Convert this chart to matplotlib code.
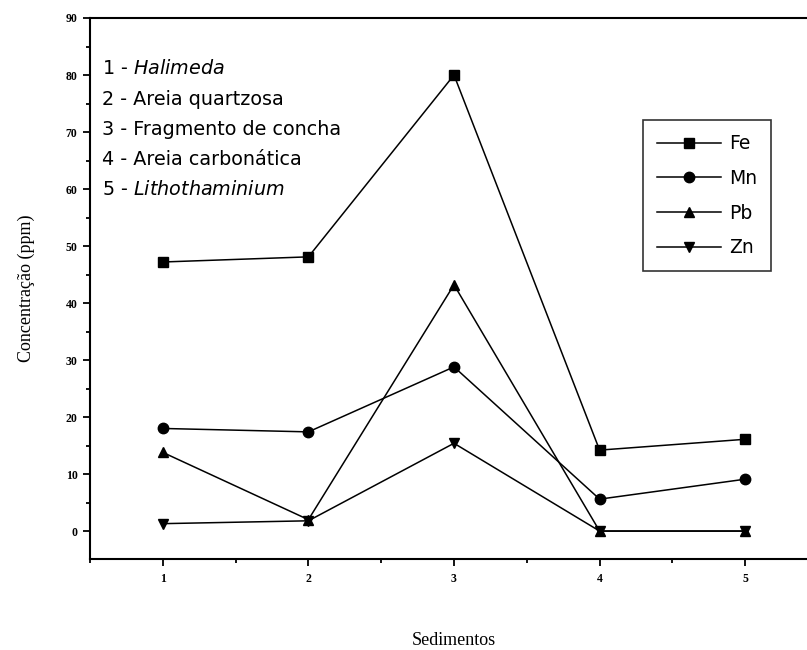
import matplotlib
matplotlib.use("Agg")
import matplotlib.pyplot as plt
from matplotlib.ticker import MultipleLocator

plt.rcParams['mathtext.fontset'] = 'custom'
plt.rcParams['mathtext.rm'] = 'DejaVu Sans'
plt.rcParams['mathtext.it'] = 'DejaVu Sans:italic'

sediments = [1, 2, 3, 4, 5]
fe = [47.2, 48.1, 80.0, 14.2, 16.1]
mn = [18.0, 17.4, 28.8, 5.6, 9.1]
pb = [13.8, 2.0, 43.2, 0.0, 0.0]
zn = [1.3, 1.8, 15.4, 0.0, 0.0]
series_labels = ["Fe", "Mn", "Pb", "Zn"]
notes = [r"1 - $\mathit{Halimeda}$", "2 - Areia quartzosa", "3 - Fragmento de concha",
         "4 - Areia carbonática", r"5 - $\mathit{Lithothaminium}$"]
yticks = [0, 10, 20, 30, 40, 50, 60, 70, 80, 90]
ytick_labels = ["0", "10", "20", "30", "40", "50", "60", "70", "80", "90"]
xtick_labels = ["1", "2", "3", "4", "5"]

fig = plt.figure(figsize=(8.07, 6.5), dpi=100)
ax = fig.add_axes([90/807, 1 - 559/650, 728/807, 541/650])

markers = ['s', 'o', '^', 'v']
for vals, lab, m in zip([fe, mn, pb, zn], series_labels, markers):
    ax.plot(sediments, vals, color='black', lw=1.1, marker=m, markersize=7.5,
            markerfacecolor='black', markeredgecolor='black', label=lab, clip_on=False)

ax.set_xlim(0.5, 5.5)
ax.set_ylim(-4.9, 90)
ax.set_xticks(sediments)
ax.set_xticklabels(xtick_labels)
ax.set_yticks(yticks)
ax.set_yticklabels(ytick_labels)
ax.xaxis.set_minor_locator(MultipleLocator(0.5))
ax.yaxis.set_minor_locator(MultipleLocator(5))
ax.tick_params(which='major', direction='out', length=5, width=1.3)
ax.tick_params(which='minor', direction='out', length=3, width=1.3)
for lbl in ax.get_xticklabels() + ax.get_yticklabels():
    lbl.set_fontfamily('Liberation Serif')
    lbl.set_fontweight('bold')
    lbl.set_fontsize(8.5)
ax.tick_params(axis='x', pad=5)
ax.tick_params(axis='y', pad=4)

for s in ['left', 'bottom', 'top']:
    ax.spines[s].set_linewidth(1.5)
ax.spines['right'].set_visible(False)

ax.set_ylabel("Concentração (ppm)", fontfamily='Liberation Serif', fontsize=13, labelpad=22)
ax.set_xlabel("Sedimentos", fontfamily='Liberation Serif', fontsize=13, labelpad=34)

y0 = (559 - 69) / 541
for i, t in enumerate(notes):
    ax.text(12/728, y0 - i*30.2/541, t, transform=ax.transAxes, fontsize=13.8,
            fontfamily='DejaVu Sans', va='center', ha='left')

leg = ax.legend(loc='upper left', bbox_to_anchor=(553/728, 439/541), borderaxespad=0,
                prop={'family': 'DejaVu Sans', 'size': 13.5}, frameon=True,
                fancybox=False, edgecolor='black', handlelength=3.4, handletextpad=0.45,
                labelspacing=0.84, borderpad=0.75)
leg.get_frame().set_linewidth(1.2)

fig.savefig("out.png", dpi=100, facecolor='white')
